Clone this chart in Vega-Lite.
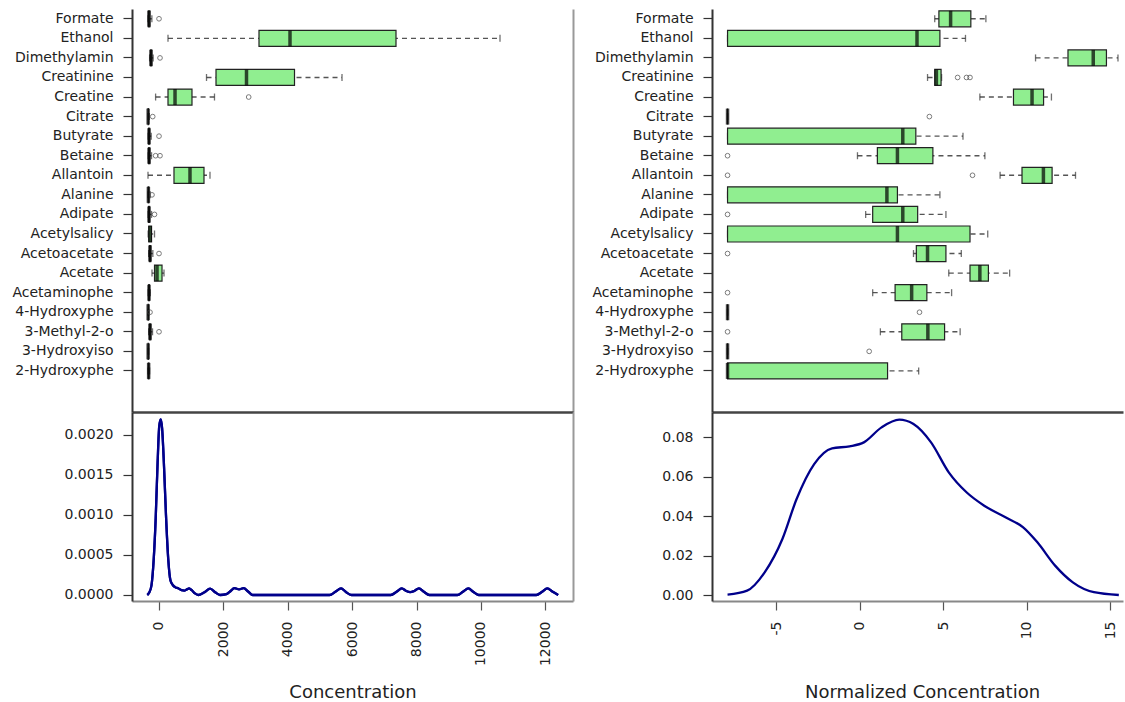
{
  "$schema": "https://vega.github.io/schema/vega-lite/v6.json",
  "background": "white",
  "padding": {"left": 7, "top": 9, "right": 0, "bottom": 0},
  "config": {
    "view": {"stroke": null},
    "font": "DejaVu Sans",
    "axis": {
      "labelFont": "DejaVu Sans",
      "labelFontSize": 14,
      "labelColor": "#222",
      "titleFont": "DejaVu Sans",
      "titleFontSize": 18,
      "titleFontWeight": "normal",
      "titleColor": "#222",
      "tickColor": "#333",
      "tickSize": 9,
      "tickWidth": 1.2,
      "domainColor": "#333",
      "domainWidth": 2,
      "grid": false,
      "labelPadding": 10
    }
  },
  "datasets": {
    "leftBox": [
      {"name": "Formate", "lo": 0, "q1": 12, "med": 31, "q3": 55, "hi": 120},
      {"name": "Ethanol", "lo": 621, "q1": 3447, "med": 4410, "q3": 7702, "hi": 10932},
      {"name": "Dimethylamin", "lo": 50, "q1": 75, "med": 93, "q3": 115, "hi": 160},
      {"name": "Creatinine", "lo": 1817, "q1": 2112, "med": 3059, "q3": 4550, "hi": 6025},
      {"name": "Creatine", "lo": 236, "q1": 621, "med": 839, "q3": 1366, "hi": 2065},
      {"name": "Citrate", "lo": 0, "q1": 2, "med": 5, "q3": 10, "hi": 40},
      {"name": "Butyrate", "lo": 5, "q1": 18, "med": 31, "q3": 50, "hi": 100},
      {"name": "Betaine", "lo": 5, "q1": 18, "med": 31, "q3": 55, "hi": 110},
      {"name": "Allantoin", "lo": 0, "q1": 807, "med": 1304, "q3": 1739, "hi": 1925},
      {"name": "Alanine", "lo": 0, "q1": 5, "med": 12, "q3": 25, "hi": 70},
      {"name": "Adipate", "lo": 5, "q1": 18, "med": 31, "q3": 50, "hi": 110},
      {"name": "Acetylsalicy", "lo": 5, "q1": 25, "med": 62, "q3": 110, "hi": 202},
      {"name": "Acetoacetate", "lo": 20, "q1": 45, "med": 62, "q3": 85, "hi": 150},
      {"name": "Acetate", "lo": 124, "q1": 202, "med": 280, "q3": 435, "hi": 497},
      {"name": "Acetaminophe", "lo": 5, "q1": 20, "med": 31, "q3": 45, "hi": 70},
      {"name": "4-Hydroxyphe", "lo": 0, "q1": 2, "med": 5, "q3": 10, "hi": 25},
      {"name": "3-Methyl-2-o", "lo": 20, "q1": 45, "med": 62, "q3": 85, "hi": 140},
      {"name": "3-Hydroxyiso", "lo": 0, "q1": 2, "med": 5, "q3": 10, "hi": 20},
      {"name": "2-Hydroxyphe", "lo": 0, "q1": 10, "med": 20, "q3": 30, "hi": 50}
    ],
    "leftOut": [
      {"name": "Formate", "v": 342},
      {"name": "Dimethylamin", "v": 373},
      {"name": "Creatine", "v": 3127},
      {"name": "Citrate", "v": 146},
      {"name": "Butyrate", "v": 342},
      {"name": "Betaine", "v": 236},
      {"name": "Betaine", "v": 373},
      {"name": "Alanine", "v": 124},
      {"name": "Adipate", "v": 202},
      {"name": "Acetoacetate", "v": 342},
      {"name": "4-Hydroxyphe", "v": 62},
      {"name": "3-Methyl-2-o", "v": 342}
    ],
    "rightBox": [
      {"name": "Formate", "lo": 4.49, "q1": 4.74, "med": 5.44, "q3": 6.65, "hi": 7.55},
      {"name": "Ethanol", "lo": -7.9, "q1": -7.9, "med": 3.43, "q3": 4.8, "hi": 6.33},
      {"name": "Dimethylamin", "lo": 10.52, "q1": 12.46, "med": 13.97, "q3": 14.76, "hi": 15.45},
      {"name": "Creatinine", "lo": 4.06, "q1": 4.49, "med": 4.59, "q3": 4.87, "hi": 4.9},
      {"name": "Creatine", "lo": 7.19, "q1": 9.2, "med": 10.31, "q3": 11.0, "hi": 11.47},
      {"name": "Citrate", "lo": -7.9, "q1": -7.9, "med": -7.9, "q3": -7.9, "hi": -7.9},
      {"name": "Butyrate", "lo": -7.9, "q1": -7.9, "med": 2.58, "q3": 3.36, "hi": 6.18},
      {"name": "Betaine", "lo": -0.13, "q1": 1.06, "med": 2.26, "q3": 4.38, "hi": 7.49},
      {"name": "Allantoin", "lo": 8.4, "q1": 9.71, "med": 10.99, "q3": 11.51, "hi": 12.91},
      {"name": "Alanine", "lo": -7.9, "q1": -7.9, "med": 1.63, "q3": 2.26, "hi": 4.8},
      {"name": "Adipate", "lo": 0.36, "q1": 0.78, "med": 2.58, "q3": 3.47, "hi": 5.16},
      {"name": "Acetylsalicy", "lo": -7.9, "q1": -7.9, "med": 2.26, "q3": 6.6, "hi": 7.66},
      {"name": "Acetoacetate", "lo": 3.22, "q1": 3.39, "med": 4.06, "q3": 5.16, "hi": 6.08},
      {"name": "Acetate", "lo": 5.33, "q1": 6.6, "med": 7.19, "q3": 7.7, "hi": 8.97},
      {"name": "Acetaminophe", "lo": 0.78, "q1": 2.12, "med": 3.11, "q3": 4.02, "hi": 5.5},
      {"name": "4-Hydroxyphe", "lo": -7.9, "q1": -7.9, "med": -7.9, "q3": -7.9, "hi": -7.9},
      {"name": "3-Methyl-2-o", "lo": 1.24, "q1": 2.52, "med": 4.08, "q3": 5.08, "hi": 6.01},
      {"name": "3-Hydroxyiso", "lo": -7.9, "q1": -7.9, "med": -7.9, "q3": -7.9, "hi": -7.9},
      {"name": "2-Hydroxyphe", "lo": -7.9, "q1": -7.9, "med": -7.9, "q3": 1.67, "hi": 3.53}
    ],
    "rightOut": [
      {"name": "Creatinine", "v": 5.86},
      {"name": "Creatinine", "v": 6.39},
      {"name": "Creatinine", "v": 6.6},
      {"name": "Citrate", "v": 4.17},
      {"name": "Betaine", "v": -7.9},
      {"name": "Allantoin", "v": -7.9},
      {"name": "Allantoin", "v": 6.75},
      {"name": "Adipate", "v": -7.9},
      {"name": "Acetoacetate", "v": -7.9},
      {"name": "Acetaminophe", "v": -7.9},
      {"name": "4-Hydroxyphe", "v": 3.58},
      {"name": "3-Methyl-2-o", "v": -7.9},
      {"name": "3-Hydroxyiso", "v": 0.57}
    ],
    "leftDens": [
      {"conc": -360, "dens": 0.0},
      {"conc": -300, "dens": 0.00003},
      {"conc": -230, "dens": 0.00012},
      {"conc": -160, "dens": 0.00045},
      {"conc": -100, "dens": 0.00095},
      {"conc": -40, "dens": 0.00165},
      {"conc": 10, "dens": 0.0021},
      {"conc": 56, "dens": 0.00219},
      {"conc": 100, "dens": 0.00208},
      {"conc": 160, "dens": 0.0016},
      {"conc": 220, "dens": 0.001},
      {"conc": 290, "dens": 0.00045},
      {"conc": 360, "dens": 0.00018},
      {"conc": 430, "dens": 0.000125},
      {"conc": 520, "dens": 0.000095},
      {"conc": 600, "dens": 0.000085},
      {"conc": 700, "dens": 0.00006},
      {"conc": 790, "dens": 0.000055},
      {"conc": 870, "dens": 0.00007},
      {"conc": 940, "dens": 0.000083},
      {"conc": 1020, "dens": 0.00006},
      {"conc": 1120, "dens": 0.00002},
      {"conc": 1220, "dens": 0.0},
      {"conc": 1400, "dens": 0.00003},
      {"conc": 1593, "dens": 0.00008},
      {"conc": 1760, "dens": 0.00003},
      {"conc": 1898, "dens": 0.0},
      {"conc": 2100, "dens": 0.00001},
      {"conc": 2200, "dens": 0.00004},
      {"conc": 2349, "dens": 0.000085},
      {"conc": 2490, "dens": 0.00007},
      {"conc": 2631, "dens": 0.000085},
      {"conc": 2780, "dens": 0.00004},
      {"conc": 2913, "dens": 0.0},
      {"conc": 5300, "dens": 0.0},
      {"conc": 5480, "dens": 0.00004},
      {"conc": 5658, "dens": 0.000083},
      {"conc": 5800, "dens": 0.00004},
      {"conc": 5980, "dens": 0.0},
      {"conc": 7200, "dens": 0.0},
      {"conc": 7380, "dens": 0.00004},
      {"conc": 7543, "dens": 0.000083},
      {"conc": 7680, "dens": 0.00005},
      {"conc": 7804, "dens": 0.000035},
      {"conc": 7930, "dens": 0.00005},
      {"conc": 8075, "dens": 0.000083},
      {"conc": 8230, "dens": 0.00004},
      {"conc": 8400, "dens": 0.0},
      {"conc": 9270, "dens": 0.0},
      {"conc": 9440, "dens": 0.00004},
      {"conc": 9612, "dens": 0.000083},
      {"conc": 9760, "dens": 0.00004},
      {"conc": 9930, "dens": 0.0},
      {"conc": 11720, "dens": 0.0},
      {"conc": 11900, "dens": 0.00004},
      {"conc": 12062, "dens": 0.000083},
      {"conc": 12230, "dens": 0.00004},
      {"conc": 12400, "dens": 0.0}
    ],
    "rightDens": [
      {"conc": -7.9, "dens": 0.0002},
      {"conc": -6.73, "dens": 0.0022},
      {"conc": -5.68, "dens": 0.0115},
      {"conc": -4.62, "dens": 0.0284},
      {"conc": -3.77, "dens": 0.0487},
      {"conc": -2.72, "dens": 0.0664},
      {"conc": -1.65, "dens": 0.0744},
      {"conc": -0.6, "dens": 0.0754},
      {"conc": 0.25, "dens": 0.0774},
      {"conc": 1.31, "dens": 0.085},
      {"conc": 2.37, "dens": 0.0889},
      {"conc": 3.22, "dens": 0.0867},
      {"conc": 4.27, "dens": 0.0774},
      {"conc": 5.33, "dens": 0.0622},
      {"conc": 6.39, "dens": 0.0521},
      {"conc": 7.45, "dens": 0.0453},
      {"conc": 8.72, "dens": 0.0394},
      {"conc": 9.78, "dens": 0.0343},
      {"conc": 10.63, "dens": 0.0267},
      {"conc": 11.69, "dens": 0.0149},
      {"conc": 12.75, "dens": 0.0064},
      {"conc": 14.01, "dens": 0.0014},
      {"conc": 15.5, "dens": 0.0}
    ]
  },
  "columns": 2,
  "spacing": {"row": 0, "column": 139},
  "bounds": "flush",
  "concat": [
    {
      "width": 441,
      "height": 403,
      "data": {"name": "leftBox"},
      "encoding": {
        "y": {
          "field": "name", "type": "nominal",
          "scale": {"type": "band", "paddingInner": 0, "paddingOuter": 0.8, "align": 0,
            "domain": ["Formate", "Ethanol", "Dimethylamin", "Creatinine", "Creatine", "Citrate", "Butyrate", "Betaine", "Allantoin", "Alanine", "Adipate", "Acetylsalicy", "Acetoacetate", "Acetate", "Acetaminophe", "4-Hydroxyphe", "3-Methyl-2-o", "3-Hydroxyiso", "2-Hydroxyphe"]},
          "axis": {"title": null, "minExtent": 125, "domainColor": "#333", "domainWidth": 2}
        }
      },
      "layer": [
        {
          "mark": {"type": "rule", "color": "#555", "strokeWidth": 1.4, "strokeDash": [5, 4]},
          "encoding": {
            "x": {"field": "lo", "type": "quantitative", "title": null, "scale": {"domain": [-497, 13199], "nice": false, "zero": false},
              "axis": {"orient": "bottom", "title": null, "ticks": false, "labels": false, "domainColor": "#444", "domainWidth": 2.5, "grid": true, "values": [13199], "gridColor": "#999", "gridWidth": 2, "gridOpacity": 1}},
            "x2": {"field": "hi"}
          }
        },
        {
          "mark": {"type": "tick", "size": 7, "thickness": 1.3, "color": "#333"},
          "encoding": {"x": {"field": "lo", "type": "quantitative", "title": null, "scale": {"domain": [-497, 13199], "nice": false, "zero": false},
            "axis": {"orient": "bottom", "title": null, "ticks": false, "labels": false, "domainColor": "#444", "domainWidth": 2.5, "grid": true, "values": [13199], "gridColor": "#999", "gridWidth": 2, "gridOpacity": 1}}}
        },
        {
          "mark": {"type": "tick", "size": 7, "thickness": 1.3, "color": "#333"},
          "encoding": {"x": {"field": "hi", "type": "quantitative", "title": null, "scale": {"domain": [-497, 13199], "nice": false, "zero": false},
            "axis": {"orient": "bottom", "title": null, "ticks": false, "labels": false, "domainColor": "#444", "domainWidth": 2.5, "grid": true, "values": [13199], "gridColor": "#999", "gridWidth": 2, "gridOpacity": 1}}}
        },
        {
          "mark": {"type": "bar", "size": 16, "fill": "#90EE90", "stroke": "#222", "strokeWidth": 1.2},
          "encoding": {
            "x": {"field": "q1", "type": "quantitative", "title": null, "scale": {"domain": [-497, 13199], "nice": false, "zero": false},
              "axis": {"orient": "bottom", "title": null, "ticks": false, "labels": false, "domainColor": "#444", "domainWidth": 2.5, "grid": true, "values": [13199], "gridColor": "#999", "gridWidth": 2, "gridOpacity": 1}},
            "x2": {"field": "q3"}
          }
        },
        {
          "mark": {"type": "tick", "size": 16, "thickness": 3.5, "color": "#000"},
          "encoding": {"x": {"field": "med", "type": "quantitative", "title": null, "scale": {"domain": [-497, 13199], "nice": false, "zero": false},
            "axis": {"orient": "bottom", "title": null, "ticks": false, "labels": false, "domainColor": "#444", "domainWidth": 2.5, "grid": true, "values": [13199], "gridColor": "#999", "gridWidth": 2, "gridOpacity": 1}}}
        },
        {
          "data": {"name": "leftOut"},
          "mark": {"type": "point", "shape": "circle", "filled": false, "size": 22, "color": "#444", "strokeWidth": 1},
          "encoding": {"x": {"field": "v", "type": "quantitative", "title": null, "scale": {"domain": [-497, 13199], "nice": false, "zero": false},
            "axis": {"orient": "bottom", "title": null, "ticks": false, "labels": false, "domainColor": "#444", "domainWidth": 2.5, "grid": true, "values": [13199], "gridColor": "#999", "gridWidth": 2, "gridOpacity": 1}}}
        }
      ]
    },
    {
      "width": 411,
      "height": 403,
      "data": {"name": "rightBox"},
      "encoding": {
        "y": {
          "field": "name", "type": "nominal",
          "scale": {"type": "band", "paddingInner": 0, "paddingOuter": 0.8, "align": 0,
            "domain": ["Formate", "Ethanol", "Dimethylamin", "Creatinine", "Creatine", "Citrate", "Butyrate", "Betaine", "Allantoin", "Alanine", "Adipate", "Acetylsalicy", "Acetoacetate", "Acetate", "Acetaminophe", "4-Hydroxyphe", "3-Methyl-2-o", "3-Hydroxyiso", "2-Hydroxyphe"]},
          "axis": {"title": null, "domainColor": "#333", "domainWidth": 2}
        }
      },
      "layer": [
        {
          "mark": {"type": "rule", "color": "#555", "strokeWidth": 1.4, "strokeDash": [5, 4]},
          "encoding": {
            "x": {"field": "lo", "type": "quantitative", "title": null, "scale": {"domain": [-8.83, 15.75], "nice": false, "zero": false},
              "axis": {"orient": "bottom", "title": null, "ticks": false, "labels": false, "domainColor": "#444", "domainWidth": 2.5}},
            "x2": {"field": "hi"}
          }
        },
        {
          "mark": {"type": "tick", "size": 7, "thickness": 1.3, "color": "#333"},
          "encoding": {"x": {"field": "lo", "type": "quantitative", "title": null, "scale": {"domain": [-8.83, 15.75], "nice": false, "zero": false},
            "axis": {"orient": "bottom", "title": null, "ticks": false, "labels": false, "domainColor": "#444", "domainWidth": 2.5}}}
        },
        {
          "mark": {"type": "tick", "size": 7, "thickness": 1.3, "color": "#333"},
          "encoding": {"x": {"field": "hi", "type": "quantitative", "title": null, "scale": {"domain": [-8.83, 15.75], "nice": false, "zero": false},
            "axis": {"orient": "bottom", "title": null, "ticks": false, "labels": false, "domainColor": "#444", "domainWidth": 2.5}}}
        },
        {
          "mark": {"type": "bar", "size": 16, "fill": "#90EE90", "stroke": "#222", "strokeWidth": 1.2},
          "encoding": {
            "x": {"field": "q1", "type": "quantitative", "title": null, "scale": {"domain": [-8.83, 15.75], "nice": false, "zero": false},
              "axis": {"orient": "bottom", "title": null, "ticks": false, "labels": false, "domainColor": "#444", "domainWidth": 2.5}},
            "x2": {"field": "q3"}
          }
        },
        {
          "mark": {"type": "tick", "size": 16, "thickness": 3.5, "color": "#000"},
          "encoding": {"x": {"field": "med", "type": "quantitative", "title": null, "scale": {"domain": [-8.83, 15.75], "nice": false, "zero": false},
            "axis": {"orient": "bottom", "title": null, "ticks": false, "labels": false, "domainColor": "#444", "domainWidth": 2.5}}}
        },
        {
          "data": {"name": "rightOut"},
          "mark": {"type": "point", "shape": "circle", "filled": false, "size": 22, "color": "#444", "strokeWidth": 1},
          "encoding": {"x": {"field": "v", "type": "quantitative", "title": null, "scale": {"domain": [-8.83, 15.75], "nice": false, "zero": false},
            "axis": {"orient": "bottom", "title": null, "ticks": false, "labels": false, "domainColor": "#444", "domainWidth": 2.5}}}
        }
      ]
    },
    {
      "width": 441,
      "height": 189,
      "data": {"name": "leftDens"},
      "layer": [
        {
          "mark": {"type": "line", "interpolate": "monotone", "color": "#00008B", "strokeWidth": 2.3},
          "encoding": {
            "x": {"field": "conc", "type": "quantitative", "scale": {"domain": [-835, 12860], "nice": false, "zero": false},
              "axis": {"orient": "bottom", "values": [0, 2000, 4000, 6000, 8000, 10000, 12000], "labelExpr": "'' + datum.value",
                "labelAngle": -90, "labelPadding": 11, "labelFlush": false, "labelOverlap": false,
                "title": "Concentration", "titleY": 82, "titleBaseline": "top", "domainColor": "#888", "tickColor": "#555"}},
            "y": {"field": "dens", "type": "quantitative", "scale": {"domain": [-0.0000749, 0.002283], "nice": false, "zero": false},
              "axis": {"values": [0, 0.0005, 0.001, 0.0015, 0.002], "format": ".4f", "title": null, "minExtent": 125,
                "labelFlush": false, "labelOverlap": false}}
          }
        },
        {
          "mark": {"type": "line", "interpolate": "monotone", "color": "#00008B", "strokeWidth": 2.3},
          "encoding": {
            "x": {"field": "conc", "type": "quantitative", "scale": {"domain": [-835, 12860], "nice": false, "zero": false},
              "axis": {"orient": "bottom", "values": [0, 2000, 4000, 6000, 8000, 10000, 12000], "labelExpr": "'' + datum.value",
                "labelAngle": -90, "labelPadding": 11, "labelFlush": false, "labelOverlap": false,
                "title": "Concentration", "titleY": 82, "titleBaseline": "top", "domainColor": "#888", "tickColor": "#555"}},
            "y": {"field": "dens", "type": "quantitative", "scale": {"domain": [-0.0000749, 0.002283], "nice": false, "zero": false},
              "axis": {"orient": "right", "title": null, "ticks": false, "labels": false, "domainColor": "#999", "domainWidth": 2, "minExtent": 0}}
          }
        }
      ],
      "resolve": {"axis": {"y": "independent"}}
    },
    {
      "width": 411,
      "height": 189,
      "data": {"name": "rightDens"},
      "mark": {"type": "line", "interpolate": "monotone", "color": "#00008B", "strokeWidth": 2.3},
      "encoding": {
        "x": {"field": "conc", "type": "quantitative", "scale": {"domain": [-8.83, 15.75], "nice": false, "zero": false},
          "axis": {"orient": "bottom", "values": [-5, 0, 5, 10, 15], "labelExpr": "'' + datum.value",
            "labelAngle": -90, "labelPadding": 11, "labelFlush": false, "labelOverlap": false,
            "title": "Normalized Concentration", "titleY": 82, "titleX": 210, "titleBaseline": "top", "domainColor": "#888", "tickColor": "#555"}},
        "y": {"field": "dens", "type": "quantitative", "scale": {"domain": [-0.00304, 0.0928], "nice": false, "zero": false},
          "axis": {"values": [0, 0.02, 0.04, 0.06, 0.08], "format": ".2f", "title": null, "labelFlush": false, "labelOverlap": false}}
      }
    }
  ]
}
